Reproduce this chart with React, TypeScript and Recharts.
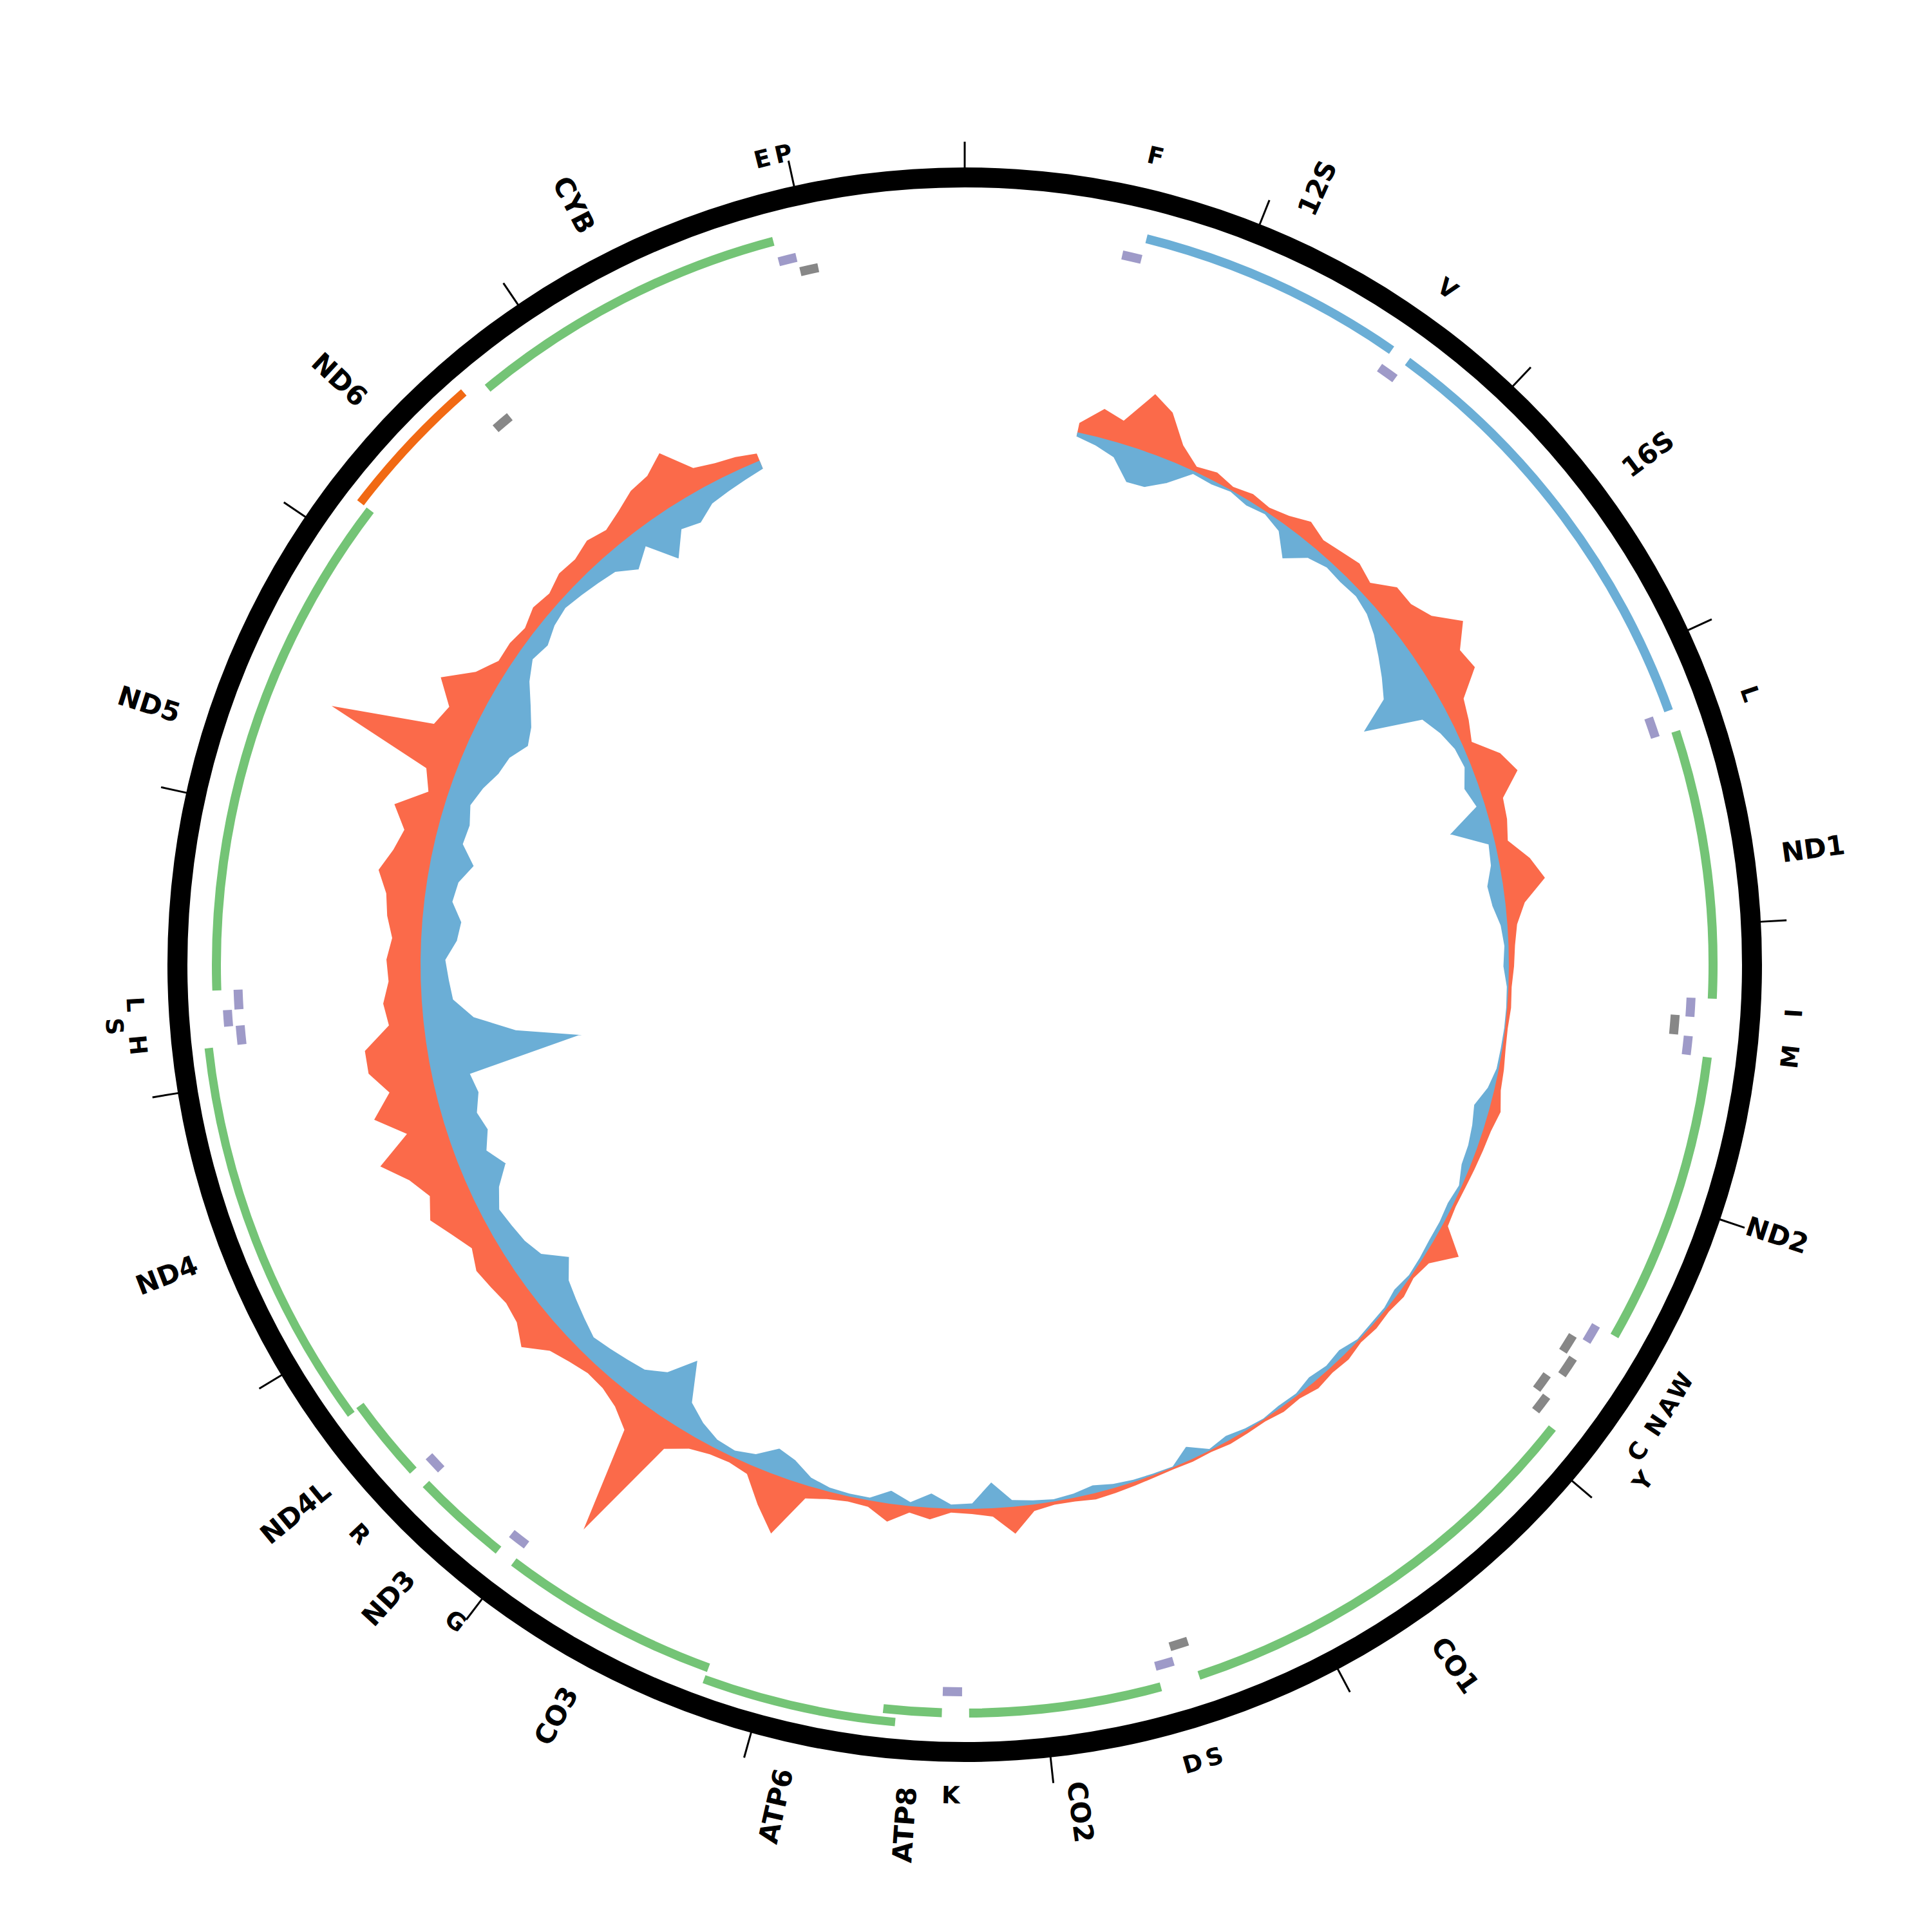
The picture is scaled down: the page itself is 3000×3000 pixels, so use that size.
import { PieChart, Pie, Cell, RadarChart, Radar, PolarAngleAxis, PolarRadiusAxis } from 'recharts'

const GENOME_LENGTH = 16569
const SIZE = 3000
const CX = 1498
const CY = 1498

// tick marks every 1000 bp round the outer ring
const TICKS = [0, 1000, 2000, 3000, 4000, 5000, 6000, 7000, 8000, 9000, 10000, 11000, 12000, 13000, 14000, 15000, 16000]

const rRNAs = [
  { name: '12S', start: 648, end: 1601 },
  { name: '16S', start: 1671, end: 3229 },
]

const proteinGenes = [
  { name: 'ND1', start: 3307, end: 4262, strand: 'H' },
  { name: 'ND2', start: 4470, end: 5511, strand: 'H' },
  { name: 'CO1', start: 5904, end: 7445, strand: 'H' },
  { name: 'CO2', start: 7586, end: 8269, strand: 'H' },
  { name: 'ATP8', start: 8366, end: 8572, strand: 'H' },
  { name: 'ATP6', start: 8527, end: 9207, strand: 'H' },
  { name: 'CO3', start: 9207, end: 9990, strand: 'H' },
  { name: 'ND3', start: 10059, end: 10404, strand: 'H' },
  { name: 'ND4L', start: 10470, end: 10766, strand: 'H' },
  { name: 'ND4', start: 10760, end: 12137, strand: 'H' },
  { name: 'ND5', start: 12337, end: 14148, strand: 'H' },
  { name: 'ND6', start: 14149, end: 14673, strand: 'L' },
  { name: 'CYB', start: 14747, end: 15887, strand: 'H' },
]

// label '' = drawn without a name in the figure
const tRNAs = [
  { name: 'F', label: 'F', start: 577, end: 647, strand: 'H' },
  { name: 'V', label: 'V', start: 1602, end: 1670, strand: 'H' },
  { name: 'L1', label: 'L', start: 3230, end: 3304, strand: 'H' },
  { name: 'I', label: 'I', start: 4263, end: 4331, strand: 'H' },
  { name: 'Q', label: '', start: 4329, end: 4400, strand: 'L' },
  { name: 'M', label: 'M', start: 4402, end: 4469, strand: 'H' },
  { name: 'W', label: 'W', start: 5512, end: 5579, strand: 'H' },
  { name: 'A', label: 'A', start: 5587, end: 5655, strand: 'L' },
  { name: 'N', label: 'N', start: 5657, end: 5729, strand: 'L' },
  { name: 'C', label: 'C', start: 5761, end: 5826, strand: 'L' },
  { name: 'Y', label: 'Y', start: 5826, end: 5891, strand: 'L' },
  { name: 'S1', label: 'S', start: 7446, end: 7514, strand: 'L' },
  { name: 'D', label: 'D', start: 7518, end: 7585, strand: 'H' },
  { name: 'K', label: 'K', start: 8295, end: 8364, strand: 'H' },
  { name: 'G', label: 'G', start: 9991, end: 10058, strand: 'H' },
  { name: 'R', label: 'R', start: 10405, end: 10469, strand: 'H' },
  { name: 'H', label: 'H', start: 12138, end: 12206, strand: 'H' },
  { name: 'S2', label: 'S', start: 12207, end: 12265, strand: 'H' },
  { name: 'L2', label: 'L', start: 12266, end: 12336, strand: 'H' },
  { name: 'E', label: '', start: 14674, end: 14742, strand: 'L' },
  { name: 'T', label: 'E', start: 15888, end: 15953, strand: 'H' },
  { name: 'P', label: 'P', start: 15956, end: 16023, strand: 'L' },
]

// read depth in 100 bp bins, first covered bin is 5 (500-600 bp)
const BIN_SIZE = 100
const FIRST_BIN = 5
const forwardDepth = [
  15, 45, 35, 89, 71, 30, 8, 14, 6, 12,
  8, 15, 28, 18, 23, 29, 20, 46, 46, 60,
  95, 66, 72, 33, 25, 15, 49, 65, 30, 27,
  20, 48, 66, 30, 15, 10, 8, 5, 6, 4,
  5, 8, 10, 18, 12, 10, 8, 6, 5, 8,
  46, 12, 5, 10, 6, 8, 5, 10, 8, 12,
  6, 8, 4, 5, 6, 3, 4, 3, 4, 6,
  8, 10, 6, 5, 10, 42, 13, 8, 6, 18,
  10, 28, 10, 8, 12, 20, 88, 53, 15, 10,
  12, 20, 40, 213, 50, 30, 20, 18, 25, 35,
  64, 45, 40, 45, 50, 38, 55, 75, 60, 80,
  115, 60, 103, 70, 96, 96, 54, 60, 50, 53,
  45, 55, 60, 77, 60, 50, 75, 30, 45, 217,
  60, 50, 83, 40, 19, 20, 15, 25, 20, 30,
  28, 37, 30, 41, 55, 60, 80, 34, 25, 20,
  12,
]
const reverseDepth = [
  8, 15, 25, 56, 54, 35, 6, 8, 4, 10,
  6, 15, 46, 20, 12, 14, 12, 18, 30, 45,
  60, 76, 131, 40, 25, 15, 12, 24, 15, 67,
  12, 15, 26, 22, 12, 8, 10, 4, 3, 3,
  4, 5, 12, 26, 20, 16, 15, 6, 10, 8,
  8, 6, 5, 10, 5, 5, 4, 12, 8, 12,
  5, 6, 3, 5, 10, 4, 23, 3, 4, 5,
  8, 14, 8, 5, 8, 12, 42, 10, 8, 24,
  8, 22, 6, 6, 8, 15, 33, 42, 20, 12,
  15, 27, 45, 106, 63, 45, 40, 35, 30, 40,
  50, 60, 83, 50, 40, 35, 30, 45, 70, 50,
  63, 55, 66, 60, 244, 141, 79, 50, 45, 40,
  57, 62, 45, 50, 69, 45, 48, 40, 50, 64,
  70, 88, 79, 61, 40, 25, 31, 20, 15, 20,
  25, 30, 51, 30, 76, 40, 47, 30, 25, 20,
  15,
]

const COLORS = {
  ring: '#000000',
  protein: '#74c476',
  proteinL: '#f16913',
  rRNA: '#6baed6',
  tRNAH: '#9e9ac8',
  tRNAL: '#878787',
  forward: '#fb6a4a',
  reverse: '#6baed6',
}

const RING_IN = 1207
const RING_OUT = 1238
const TICK_OUT = 1278
const TICK_WIDTH_BP = 6.3
const GENE_R = [1162, 1181]
const GENE_HALF = [7, 6.5]
const TRNA_H_R = [1129, 1147]
const TRNA_L_R = [1106, 1125]
const TRNA_HALF = 7
const COVERAGE_BASE = 845
const COVERAGE_MAX = 1100
const GENE_LABEL_R = 1280
const TRNA_LABEL_R = [1290, 1324]
const LABEL_MIN_GAP = 68

type Feature = { name: string; label: string; start: number; end: number; color: string }
type Segment = { value: number; color: string; label: string }

function assignLevels<T extends { start: number; end: number }>(items: T[]) {
  const lastEnd = [-Infinity, -Infinity]
  return [...items]
    .sort((a, b) => a.start - b.start)
    .map((it) => {
      const level = it.start <= lastEnd[0] + 2 ? 1 : 0
      lastEnd[level] = it.end
      return { ...it, level }
    })
}

function buildSegments(items: { from: number; to: number; color: string; label: string }[]): Segment[] {
  const segs: Segment[] = []
  let pos = 0
  ;[...items]
    .sort((a, b) => a.from - b.from)
    .forEach((it) => {
      if (it.from > pos) segs.push({ value: it.from - pos, color: 'none', label: '' })
      segs.push({ value: it.to - Math.max(it.from, pos), color: it.color, label: it.label })
      pos = it.to
    })
  if (pos < GENOME_LENGTH) segs.push({ value: GENOME_LENGTH - pos, color: 'none', label: '' })
  return segs
}

const featureSegments = (list: Feature[]) =>
  buildSegments(list.map((f) => ({ from: f.start - 1, to: f.end, color: f.color, label: f.label })))

const genes = assignLevels<Feature>([
  ...rRNAs.map((g) => ({ ...g, label: g.name, color: COLORS.rRNA })),
  ...proteinGenes.map((g) => ({ ...g, label: g.name, color: g.strand === 'L' ? COLORS.proteinL : COLORS.protein })),
])
const tH = assignLevels<Feature>(tRNAs.filter((t) => t.strand === 'H').map((t) => ({ ...t, color: COLORS.tRNAH })))
const tL = assignLevels<Feature>(tRNAs.filter((t) => t.strand === 'L').map((t) => ({ ...t, color: COLORS.tRNAL })))

// tRNA names: pushed outward when too close to the previous one
const labelLevels = (() => {
  let lastMid = -Infinity
  return tRNAs
    .filter((t) => t.label)
    .sort((a, b) => a.start - b.start)
    .map((t) => {
      const mid = (t.start - 1 + t.end) / 2
      const level = mid - lastMid < LABEL_MIN_GAP ? 1 : 0
      if (level === 0) lastMid = mid
      return { ...t, color: 'none', level }
    })
})()

const tickSegments = buildSegments(TICKS.map((t) => ({ from: t, to: t + TICK_WIDTH_BP, color: COLORS.ring, label: '' })))
const tickShift = (TICK_WIDTH_BP / 2 / GENOME_LENGTH) * 360

const binCount = Math.ceil(GENOME_LENGTH / BIN_SIZE)
const coverage = Array.from({ length: binCount }, (_, i) => {
  const k = i - FIRST_BIN
  const covered = k >= 0 && k < forwardDepth.length
  return {
    pos: i * BIN_SIZE + BIN_SIZE / 2,
    outer: covered ? COVERAGE_BASE + forwardDepth[k] : 0,
    base: covered ? COVERAGE_BASE : 0,
    inner: covered ? COVERAGE_BASE - reverseDepth[k] : 0,
  }
})

function polar(r: number, theta: number) {
  const rad = (theta * Math.PI) / 180
  return { x: CX + r * Math.sin(rad), y: CY - r * Math.cos(rad) }
}

const compass = (midAngle: number) => (((90 - midAngle) % 360) + 360) % 360

const textStyle = { fontFamily: 'DejaVu Sans', fontWeight: 700, fill: '#000' }

const geneLabel = (segs: Segment[]) => (props: any) => {
  const seg = segs[props.index]
  if (!seg || !seg.label) return null
  const theta = compass(props.midAngle)
  const right = theta < 180
  const { x, y } = polar(GENE_LABEL_R, theta)
  const rot = right ? theta - 90 : theta - 270
  return (
    <text
      key={`g-${props.index}`}
      x={x}
      y={y}
      textAnchor={right ? 'start' : 'end'}
      dominantBaseline="central"
      transform={`rotate(${rot} ${x} ${y})`}
      style={{ ...textStyle, fontSize: 42 }}
    >
      {seg.label}
    </text>
  )
}

const trnaLabel = (segs: Segment[], r: number) => (props: any) => {
  const seg = segs[props.index]
  if (!seg || !seg.label) return null
  const theta = compass(props.midAngle)
  const { x, y } = polar(r, theta)
  const rot = theta < 90 ? theta : theta < 270 ? theta - 180 : theta - 360
  return (
    <text
      key={`t-${props.index}`}
      x={x}
      y={y}
      textAnchor="middle"
      dominantBaseline="central"
      transform={`rotate(${rot} ${x} ${y})`}
      style={{ ...textStyle, fontSize: 37 }}
    >
      {seg.label}
    </text>
  )
}

function Track({ segs, r0, r1, label }: { segs: Segment[]; r0: number; r1: number; label?: any }) {
  return (
    <Pie
      data={segs}
      dataKey="value"
      cx={CX}
      cy={CY}
      innerRadius={r0}
      outerRadius={r1}
      startAngle={90}
      endAngle={-270}
      stroke="none"
      label={label ?? false}
      labelLine={false}
      isAnimationActive={false}
    >
      {segs.map((s, i) => (
        <Cell key={i} fill={s.color} />
      ))}
    </Pie>
  )
}

const level = <T extends { level: number }>(list: T[], l: number) => list.filter((f) => f.level === l)

export default function App() {
  const geneSegs = [0, 1].map((l) => featureSegments(level(genes, l)))
  const tHSegs = [0, 1].map((l) => featureSegments(level(tH, l)))
  const tLSegs = [0, 1].map((l) => featureSegments(level(tL, l)))
  const labelSegs = [0, 1].map((l) => featureSegments(level(labelLevels, l)))

  return (
    <div style={{ position: 'absolute', left: 0, top: 0, width: SIZE, height: SIZE, background: '#fff' }}>
      <div style={{ position: 'absolute', left: 0, top: 0 }}>
        <RadarChart
          width={SIZE}
          height={SIZE}
          data={coverage}
          cx={CX}
          cy={CY}
          innerRadius={0}
          outerRadius={COVERAGE_MAX}
          startAngle={90}
          endAngle={-270}
          margin={{ top: 0, right: 0, bottom: 0, left: 0 }}
        >
          <PolarAngleAxis dataKey="pos" type="number" domain={[0, GENOME_LENGTH]} tick={false} tickLine={false} axisLine={false} />
          <PolarRadiusAxis domain={[0, COVERAGE_MAX]} tick={false} axisLine={false} />
          <Radar dataKey="outer" fill={COLORS.forward} fillOpacity={1} stroke="none" dot={false} isAnimationActive={false} />
          <Radar dataKey="base" fill={COLORS.reverse} fillOpacity={1} stroke="none" dot={false} isAnimationActive={false} />
          <Radar
            dataKey="inner"
            fill="#ffffff"
            fillOpacity={1}
            stroke="#ffffff"
            strokeWidth={3}
            dot={false}
            isAnimationActive={false}
          />
        </RadarChart>
      </div>
      <div style={{ position: 'absolute', left: 0, top: 0 }}>
        <PieChart width={SIZE} height={SIZE} margin={{ top: 0, right: 0, bottom: 0, left: 0 }}>
          <Pie
            data={[{ value: 1 }]}
            dataKey="value"
            cx={CX}
            cy={CY}
            innerRadius={RING_IN}
            outerRadius={RING_OUT}
            startAngle={90}
            endAngle={-270}
            fill={COLORS.ring}
            stroke="none"
            isAnimationActive={false}
          />
          <Pie
            data={tickSegments}
            dataKey="value"
            cx={CX}
            cy={CY}
            innerRadius={RING_OUT - 2}
            outerRadius={TICK_OUT}
            startAngle={90 + tickShift}
            endAngle={90 + tickShift - 360}
            stroke="none"
            isAnimationActive={false}
          >
            {tickSegments.map((s, i) => (
              <Cell key={i} fill={s.color} />
            ))}
          </Pie>
          {[0, 1].map((l) => (
            <Track key={`g${l}`} segs={geneSegs[l]} r0={GENE_R[l] - GENE_HALF[l]} r1={GENE_R[l] + GENE_HALF[l]} label={geneLabel(geneSegs[l])} />
          ))}
          {[0, 1].map((l) => (
            <Track key={`h${l}`} segs={tHSegs[l]} r0={TRNA_H_R[l] - TRNA_HALF} r1={TRNA_H_R[l] + TRNA_HALF} />
          ))}
          {[0, 1].map((l) => (
            <Track key={`l${l}`} segs={tLSegs[l]} r0={TRNA_L_R[l] - TRNA_HALF} r1={TRNA_L_R[l] + TRNA_HALF} />
          ))}
          {[0, 1].map((l) => (
            <Track
              key={`n${l}`}
              segs={labelSegs[l]}
              r0={TRNA_LABEL_R[l]}
              r1={TRNA_LABEL_R[l]}
              label={trnaLabel(labelSegs[l], TRNA_LABEL_R[l])}
            />
          ))}
        </PieChart>
      </div>
    </div>
  )
}
